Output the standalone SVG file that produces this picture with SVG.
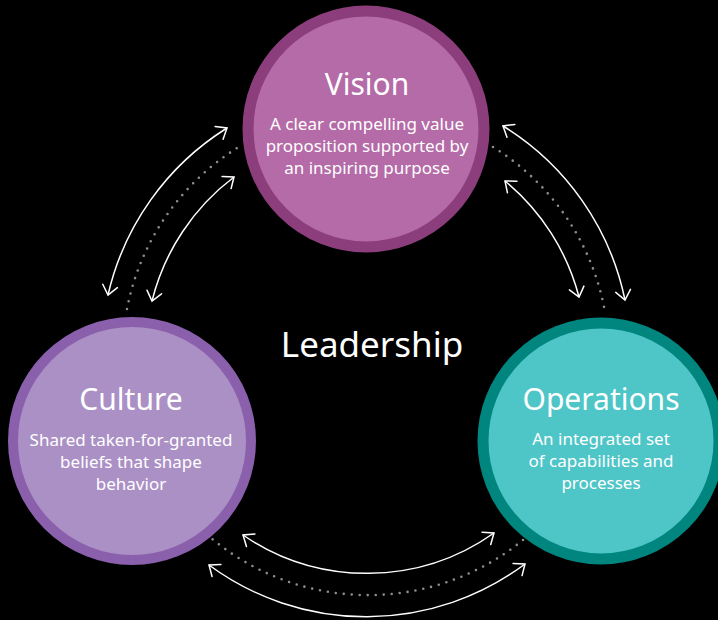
<svg xmlns="http://www.w3.org/2000/svg" width="718" height="620" viewBox="0 0 718 620">
  <defs>
    <style>
      .bg { fill: #000000; }
      .arrow { fill: none; stroke: #ffffff; stroke-width: 1.5; marker-start: url(#head); marker-end: url(#head); }
      .dots { fill: none; stroke: #8d8d8d; stroke-width: 2.6; stroke-linecap: round; stroke-dasharray: 0 8; }
      .title { font-family: "Noto Sans", "Open Sans", sans-serif; font-size: 30px; fill: #ffffff; text-anchor: middle; }
      .sub { font-family: "Noto Sans", "Open Sans", sans-serif; font-size: 17px; fill: #ffffff; text-anchor: middle; }
      .center { font-family: "Noto Sans", "Open Sans", sans-serif; font-size: 35px; fill: #ffffff; text-anchor: middle; }
    </style>
    <marker id="head" markerUnits="userSpaceOnUse" viewBox="-11 -9 14 18" refX="0" refY="0" markerWidth="14" markerHeight="18" orient="auto-start-reverse" overflow="visible">
      <path d="M-9.3,-7.5 L0,0 L-9.3,7.5" fill="none" stroke="#ffffff" stroke-width="1.5" stroke-linecap="round" stroke-linejoin="miter"/>
    </marker>
  </defs>
  <rect class="bg" x="0" y="0" width="718" height="620"/>

  <g id="connectors">
    <path class="dots" d="M127,309 A245,245 0 0,1 242,145"/>
    <path class="arrow" d="M108,295 A268,268 0 0,1 227,128"/>
    <path class="arrow" d="M152,301 A223,223 0 0,1 234,177"/>

    <path class="dots" d="M493,147 A245,245 0 0,1 605,312"/>
    <path class="arrow" d="M503,126 A268,268 0 0,1 625,300"/>
    <path class="arrow" d="M505,181 A223,223 0 0,1 579,297"/>

    <path class="dots" d="M523,540 A245,245 0 0,1 211,538"/>
    <path class="arrow" d="M494,533 A220,220 0 0,1 243,535"/>
    <path class="arrow" d="M525,564 A265,265 0 0,1 209,565"/>
  </g>

  <g id="leadership">
    <text class="center" x="372" y="357">Leadership</text>
  </g>

  <g id="vision">
    <circle cx="366" cy="129" r="118" fill="#b46ba7" stroke="#8b3d7c" stroke-width="11"/>
    <text class="title" x="367" y="95">Vision</text>
    <text class="sub" x="367" y="130">A clear compelling value</text>
    <text class="sub" x="367" y="152">proposition supported by</text>
    <text class="sub" x="367" y="174">an inspiring purpose</text>
  </g>

  <g id="culture">
    <circle cx="132" cy="441" r="119" fill="#ab90c5" stroke="#8a5fab" stroke-width="10"/>
    <text class="title" x="131" y="410">Culture</text>
    <text class="sub" x="131" y="446">Shared taken-for-granted</text>
    <text class="sub" x="131" y="468">beliefs that shape</text>
    <text class="sub" x="131" y="490">behavior</text>
  </g>

  <g id="operations">
    <circle cx="601" cy="441" r="118" fill="#4ec5c7" stroke="#00857f" stroke-width="11"/>
    <text class="title" x="601" y="410">Operations</text>
    <text class="sub" x="601" y="445">An integrated set</text>
    <text class="sub" x="601" y="467">of capabilities and</text>
    <text class="sub" x="601" y="489">processes</text>
  </g>
</svg>
